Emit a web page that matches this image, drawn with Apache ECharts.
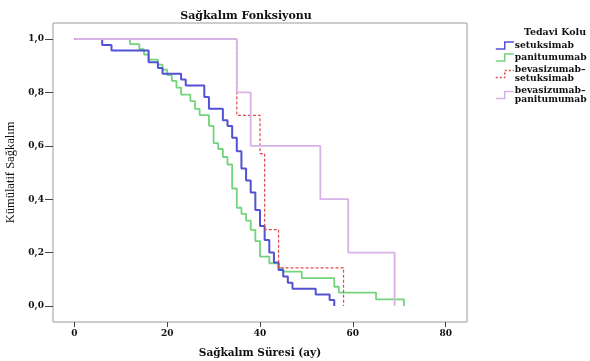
<!DOCTYPE html>
<html>
<head>
<meta charset="utf-8">
<script src="https://cdn.jsdelivr.net/npm/echarts@6/dist/echarts.min.js"></script>
<style>
  html, body { margin: 0; padding: 0; background: #fff; }
  #chart { width: 590px; height: 361px; }
</style>
</head>
<body>
<div id="chart"></div>
<script>
// Kaplan-Meier eğrileri (ay, kümülatif sağkalım)
const setukTime = [0, 6, 8, 16, 18, 19, 23, 24, 28, 29, 32, 33, 34, 35, 36, 37, 38, 39, 40, 41, 42, 43, 44, 45, 46, 47, 52, 55, 56];
const setukSurv = [1, 0.978, 0.957, 0.913, 0.891, 0.870, 0.848, 0.826, 0.783, 0.739, 0.696, 0.674, 0.630, 0.580, 0.515, 0.470, 0.425, 0.360, 0.300, 0.247, 0.200, 0.163, 0.135, 0.110, 0.087, 0.065, 0.043, 0.022, 0];

const panitTime = [0, 12, 14, 15, 16, 18, 19, 20, 21, 22, 23, 25, 26, 27, 29, 30, 31, 32, 33, 34, 35, 36, 37, 38, 39, 40, 42, 44, 45, 49, 56, 57, 65, 71];
const panitSurv = [1, 0.981, 0.962, 0.942, 0.923, 0.904, 0.885, 0.865, 0.843, 0.818, 0.792, 0.767, 0.738, 0.715, 0.675, 0.610, 0.588, 0.558, 0.530, 0.440, 0.368, 0.345, 0.320, 0.285, 0.243, 0.185, 0.160, 0.141, 0.129, 0.104, 0.072, 0.050, 0.025, 0];

const bevSetukTime = [0, 35, 40, 41, 44, 58];
const bevSetukSurv = [1, 0.714, 0.571, 0.286, 0.143, 0];

const bevPanitTime = [0, 35, 38, 53, 59, 69];
const bevPanitSurv = [1, 0.8, 0.6, 0.4, 0.2, 0];

const seriesNames = ['setuksimab', 'panitumumab', 'bevasizumab-setuksimab', 'bevasizumab-panitumumab'];
const xTicks = [0, 20, 40, 60, 80];
const yTicks = [0, 0.2, 0.4, 0.6, 0.8, 1.0];

const serif = 'DejaVu Serif';
const zip = (xs, ys) => xs.map((x, i) => [x, ys[i]]);

const chart = echarts.init(document.getElementById('chart'));

const stepIcon = 'path://M0,8 L9,8 L9,1 L18,1';

function kmSeries(name, xs, ys, color, width, dashed, z) {
  return {
    name: name,
    type: 'line',
    step: 'end',
    showSymbol: false,
    symbol: 'none',
    z: z,
    lineStyle: { color: color, width: width, type: dashed ? [3, 2] : 'solid' },
    itemStyle: { color: color },
    data: zip(xs, ys)
  };
}

const colors = ['#5252d4', '#74d47e', '#dd4b4b', '#d8b2e6'];

const option = {
  backgroundColor: '#fff',
  animation: false,
  title: [
    {
      text: 'Sağkalım Fonksiyonu',
      left: 241, top: 6, textAlign: 'center',
      textStyle: { fontFamily: serif, fontSize: 11, fontWeight: 'bold', color: '#111' }
    },
    {
      text: 'Tedavi Kolu',
      left: 550, top: 23, textAlign: 'center',
      textStyle: { fontFamily: serif, fontSize: 9.5, fontWeight: 'bold', color: '#111' }
    }
  ],
  legend: {
    orient: 'vertical',
    left: 495, top: 41,
    itemWidth: 18, itemHeight: 8,
    itemGap: 3,
    padding: 0,
    selectedMode: false,
    formatter: name => name.replace('-', '–\n'),
    textStyle: { fontFamily: serif, fontSize: 9.2, fontWeight: 'bold', color: '#111', lineHeight: 9, padding: [0, 0, 0, -4] },
    data: seriesNames.map((n, i) => ({
      name: n,
      icon: stepIcon,
      itemStyle: { color: 'transparent', borderColor: colors[i], borderWidth: 1.5, borderType: i === 2 ? [2, 2] : 'solid' }
    }))
  },
  grid: {
    left: 53, top: 23, right: 123, bottom: 39,
    outerBoundsMode: 'none', containLabel: false,
    show: true, borderColor: '#9a9a9a', borderWidth: 1
  },
  xAxis: {
    type: 'value', min: -4.6, max: 84.6,
    name: 'Sağkalım Süresi (ay)', nameLocation: 'middle', nameGap: 26,
    nameTextStyle: { fontFamily: serif, fontSize: 10.5, fontWeight: 'bold', color: '#111' },
    axisLine: { show: false, onZero: false },
    axisTick: { show: true, customValues: xTicks, length: 5, lineStyle: { color: '#444' } },
    axisLabel: { customValues: xTicks, fontFamily: serif, fontSize: 9, fontWeight: 'bold', color: '#111', margin: 7 },
    splitLine: { show: false }
  },
  yAxis: {
    type: 'value', min: -0.06, max: 1.06,
    name: 'Kümülatif Sağkalım', nameLocation: 'middle', nameGap: 31, nameRotate: 90,
    nameTextStyle: { fontFamily: 'Liberation Serif', fontSize: 12.5, color: '#111' },
    axisLine: { show: false, onZero: false },
    axisTick: { show: true, customValues: yTicks, length: 8, lineStyle: { color: '#444' } },
    axisLabel: {
      customValues: yTicks, fontFamily: serif, fontSize: 9, fontWeight: 'bold', color: '#111', margin: 9,
      formatter: v => v.toFixed(1).replace('.', ',')
    },
    splitLine: { show: false }
  },
  series: [
    kmSeries(seriesNames[0], setukTime, setukSurv, colors[0], 2, false, 3),
    kmSeries(seriesNames[1], panitTime, panitSurv, colors[1], 1.8, false, 2),
    kmSeries(seriesNames[2], bevSetukTime, bevSetukSurv, colors[2], 1.2, true, 4),
    kmSeries(seriesNames[3], bevPanitTime, bevPanitSurv, colors[3], 1.8, false, 5)
  ]
};

chart.setOption(option);
</script>
</body>
</html>
